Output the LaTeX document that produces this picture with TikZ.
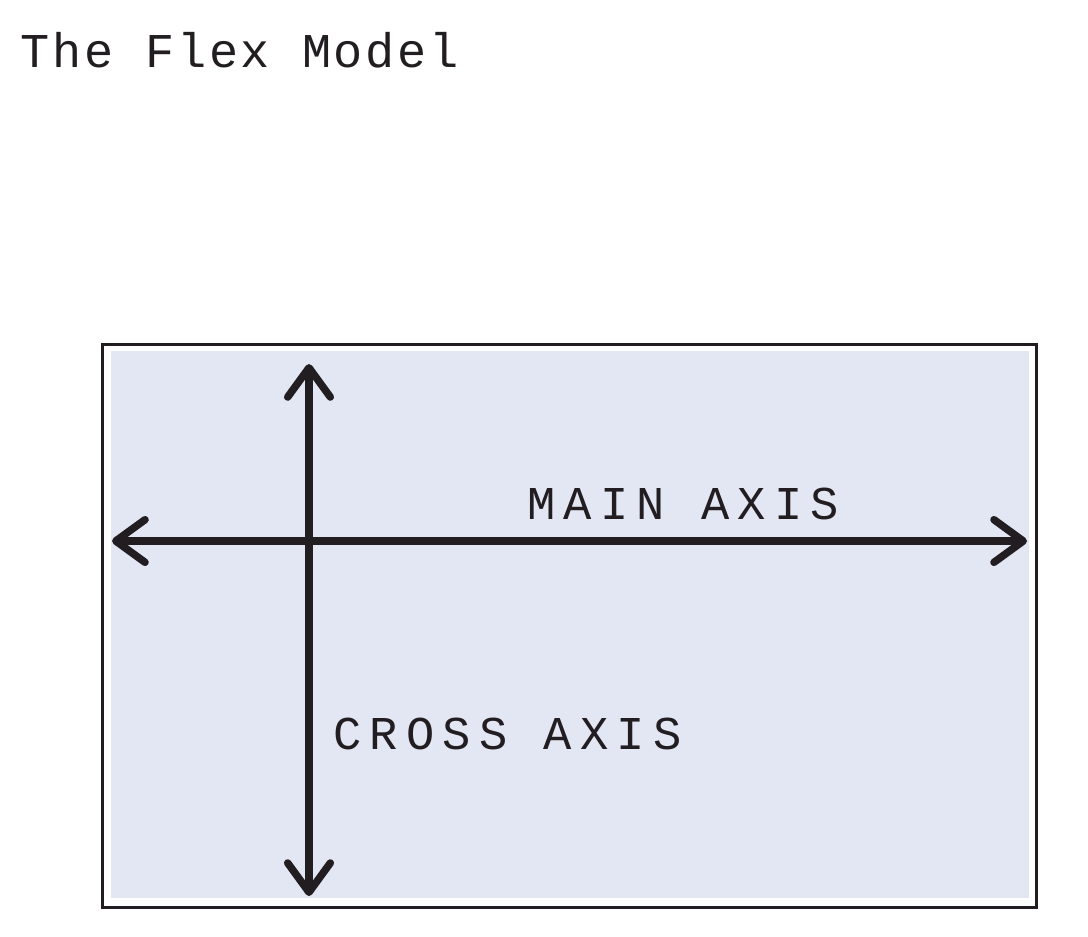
\documentclass[tikz,border=0pt]{standalone}
\usepackage{fontspec}
\usetikzlibrary{arrows.meta}
\newfontfamily\titlefont[LetterSpace=5.8]{Liberation Mono}
\newfontfamily\labelfont[LetterSpace=17.5]{Liberation Mono}
\definecolor{ink}{HTML}{211D21}
\definecolor{panel}{HTML}{E3E6F3}
\tikzset{
  axis/.style={line width=5.6pt, draw=ink, line cap=round,
    {Straight Barb[length=22pt,width=32pt,round]}-{Straight Barb[length=22pt,width=32pt,round]}},
  lbl/.style={anchor=base west, inner sep=0pt, text=ink, font=\labelfont\fontsize{35.3pt}{40pt}\selectfont},
  ttl/.style={anchor=base west, inner sep=0pt, text=ink, font=\titlefont\fontsize{36.4pt}{42pt}\selectfont},
}
\begin{document}
\begin{tikzpicture}[x=0.75pt,y=-0.75pt]
\useasboundingbox (0,0) rectangle (1088,936);
\node[ttl] (title) at (20,67) {The Flex Model};
\fill[panel] (111,351) rectangle (1029,898);
\node[draw=ink, line width=2.3pt, minimum width=700.5pt, minimum height=422.6pt, inner sep=0pt, anchor=north west] (frame) at (100.5,342.5) {};
\coordinate (L) at (112,541);
\coordinate (R) at (1027,541);
\coordinate (T) at (309,364);
\coordinate (B) at (309,896);
\draw[axis] (T) -- (B);
\draw[axis] (L) -- (R);
\node[lbl] (main) at (527,519) {MAIN AXIS};
\node[lbl] (cross) at (333,749) {CROSS AXIS};
\end{tikzpicture}
\end{document}
